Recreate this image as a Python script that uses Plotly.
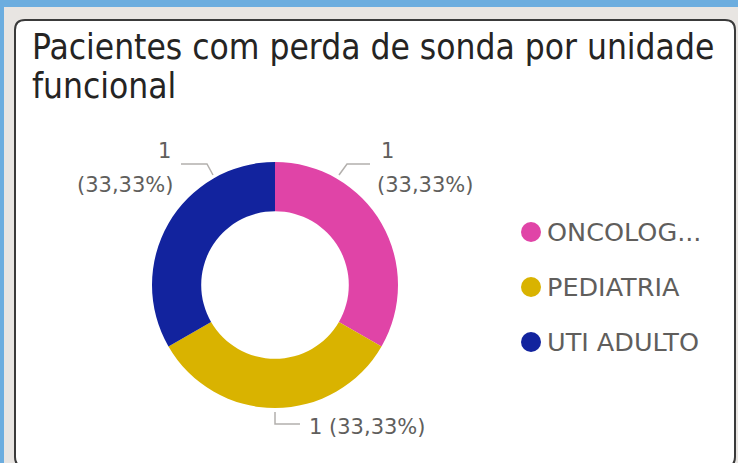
import plotly.graph_objects as go

# ---- data ----
categories = ["ONCOLOG...", "PEDIATRIA", "UTI ADULTO"]
values = [1, 1, 1]
colors = ["#E044A7", "#D9B300", "#12239E"]
title_lines = ["Pacientes com perda de sonda por unidade", "funcional"]

W, H = 738, 463


def px(x):
    return x / W


def py(y):
    return 1 - y / H


def rounded_rect(x0, y0, x1, y1, r):
    pts = [
        ("M", (x0 + r, y0)), ("L", (x1 - r, y0)), ("Q", (x1, y0), (x1, y0 + r)),
        ("L", (x1, y1 - r)), ("Q", (x1, y1), (x1 - r, y1)), ("L", (x0 + r, y1)),
        ("Q", (x0, y1), (x0, y1 - r)), ("L", (x0, y0 + r)), ("Q", (x0, y0), (x0 + r, y0)),
    ]
    s = ""
    for p in pts:
        cmd = p[0]
        coords = " ".join(f"{px(a):.5f},{py(b):.5f}" for a, b in p[1:])
        s += f"{cmd} {coords} "
    return s + "Z"


def poly(points):
    return "M " + " L ".join(f"{px(a):.5f},{py(b):.5f}" for a, b in points)


fig = go.Figure()

# donut geometry (pixels)
cx, cy, R = 275, 285, 123
fig.add_trace(go.Pie(
    labels=categories, values=values,
    marker=dict(colors=colors, line=dict(width=0)),
    hole=0.6, sort=False, direction="clockwise", rotation=0,
    textinfo="none", hoverinfo="label+value+percent", showlegend=False,
    domain=dict(x=[px(cx - R), px(cx + R)], y=[py(cy + R), py(cy - R)]),
))

shapes = []
# background
shapes.append(dict(type="rect", xref="paper", yref="paper", x0=px(4), x1=1.01, y0=py(7), y1=-0.01,
                    fillcolor="#E8E5E2", line=dict(width=0), layer="below"))
shapes.append(dict(type="path", xref="paper", yref="paper", path=rounded_rect(15, 20, 735, 467, 10),
                    fillcolor="#FFFFFF", line=dict(color="#3A3A3A", width=2), layer="below"))

total = sum(values)
label_font = dict(family="DejaVu Sans", size=21, color="#605E5C")
annotations = []


def fmt_pct(v):
    return f"{v / total * 100:.2f}".replace(".", ",") + "%"


# leader lines
leader = [
    [(339, 175), (347, 164), (370, 164)],
    [(275, 412), (275, 424), (300, 424)],
    [(213, 175), (207, 164), (181, 164)],
]
for i, v in enumerate(values):
    shapes.append(dict(type="path", xref="paper", yref="paper", path=poly(leader[i]),
                        line=dict(color="#B3B0AD", width=1.5)))

# pink (top right)
annotations.append(dict(x=px(379), y=py(151), xref="paper", yref="paper", text=f"{values[0]}",
                        showarrow=False, xanchor="left", yanchor="middle", font=label_font))
annotations.append(dict(x=px(375), y=py(185), xref="paper", yref="paper", text=f"({fmt_pct(values[0])})",
                        showarrow=False, xanchor="left", yanchor="middle", font=label_font))
# gold (bottom)
annotations.append(dict(x=px(307), y=py(427), xref="paper", yref="paper",
                        text=f"{values[1]} ({fmt_pct(values[1])})",
                        showarrow=False, xanchor="left", yanchor="middle", font=label_font))
# navy (top left)
annotations.append(dict(x=px(173), y=py(151), xref="paper", yref="paper", text=f"{values[2]}",
                        showarrow=False, xanchor="right", yanchor="middle", font=label_font))
annotations.append(dict(x=px(175), y=py(185), xref="paper", yref="paper", text=f"({fmt_pct(values[2])})",
                        showarrow=False, xanchor="right", yanchor="middle", font=label_font))

# title
title_font = dict(family="DejaVu Sans Condensed, DejaVu Sans", size=35, color="#252423")
annotations.append(dict(x=px(30), y=py(47), xref="paper", yref="paper", text=title_lines[0],
                        showarrow=False, xanchor="left", yanchor="middle", font=title_font))
annotations.append(dict(x=px(30), y=py(86), xref="paper", yref="paper", text=title_lines[1],
                        showarrow=False, xanchor="left", yanchor="middle", font=title_font))

# legend (manual, circles)
leg_x, leg_y0, leg_dy, dot_r = 531, 232, 55, 10
for i, name in enumerate(categories):
    yc = leg_y0 + i * leg_dy
    shapes.append(dict(type="circle", xref="paper", yref="paper",
                        x0=px(leg_x - dot_r), x1=px(leg_x + dot_r), y0=py(yc + dot_r), y1=py(yc - dot_r),
                        fillcolor=colors[i], line=dict(width=0)))
    annotations.append(dict(x=px(leg_x + 14), y=py(yc), xref="paper", yref="paper", text=name,
                            showarrow=False, xanchor="left", yanchor="middle",
                            font=dict(family="DejaVu Sans", size=25.5, color="#605E5C")))

fig.update_layout(
    width=W, height=H, margin=dict(l=0, r=0, t=0, b=0),
    paper_bgcolor="#6CADDF", plot_bgcolor="rgba(0,0,0,0)",
    shapes=shapes, annotations=annotations, separators=",.",
    xaxis=dict(visible=False), yaxis=dict(visible=False),
)

fig.write_html("out.html", config={"displayModeBar": False},
               post_script="document.body.style.margin='0px';document.body.style.overflow='hidden';")
